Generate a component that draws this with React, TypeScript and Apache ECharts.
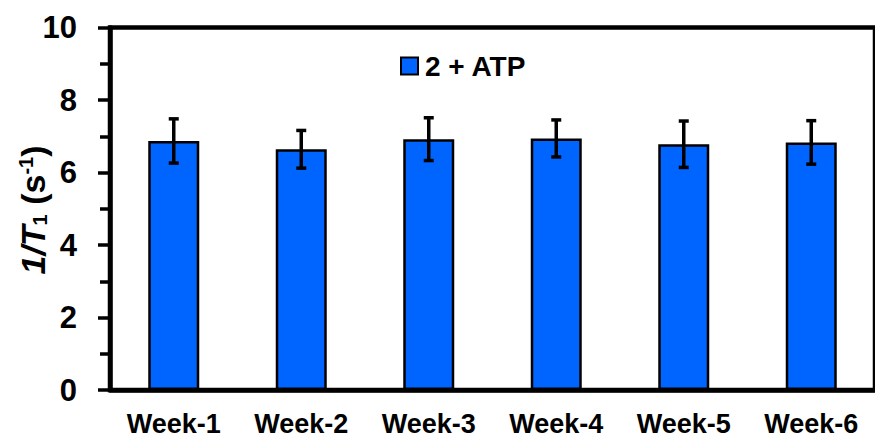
import React, { useEffect, useRef } from "react";
import * as echarts from "echarts";

// Weekly relaxation rate measurements
const weeks = ["Week-1", "Week-2", "Week-3", "Week-4", "Week-5", "Week-6"];
const rates = [6.87, 6.64, 6.92, 6.94, 6.78, 6.83];
const errors = [0.61, 0.52, 0.59, 0.51, 0.64, 0.6];
const seriesName = "2 + ATP";
const yTicks = [0, 2, 4, 6, 8, 10];

const FONT = "'Liberation Sans', Arial, Helvetica, sans-serif";

export default function App() {
  const ref = useRef<HTMLDivElement>(null);

  useEffect(() => {
    document.body.style.margin = "0";
    if (!ref.current) return;
    const chart = echarts.init(ref.current, undefined, { renderer: "svg" });

    const errData = weeks.map((_, i) => [i, rates[i] - errors[i], rates[i] + errors[i]]);

    chart.setOption({
      animation: false,
      backgroundColor: "#fff",
      grid: {
        left: 110,
        top: 27.5,
        width: 771,
        height: 365,
        show: true,
        borderColor: "#000",
        borderWidth: 4.5,
        backgroundColor: "transparent",
      },
      legend: {
        data: [seriesName],
        left: 395,
        top: 47,
        itemWidth: 17,
        itemHeight: 17,
        itemGap: 6,
        icon: "rect",
        itemStyle: { borderColor: "#000", borderWidth: 2 },
        textStyle: { fontFamily: FONT, fontWeight: "bold", fontSize: 28, color: "#000", padding: [0, 0, 0, 2] },
      },
      xAxis: {
        type: "category",
        data: weeks,
        axisLine: { lineStyle: { color: "#000", width: 4.5 } },
        axisTick: { alignWithLabel: true, length: 6, lineStyle: { color: "#000", width: 3 } },
        axisLabel: {
          margin: 20,
          fontFamily: FONT,
          fontWeight: "bold",
          fontSize: 27,
          color: "#000",
        },
      },
      yAxis: {
        type: "value",
        min: yTicks[0],
        max: yTicks[yTicks.length - 1],
        interval: 2,
        splitLine: { show: false },
        axisLine: { show: true, lineStyle: { color: "#000", width: 4.5 } },
        axisTick: { show: true, length: 12, lineStyle: { color: "#000", width: 3.5 } },
        minorTick: { show: true, splitNumber: 2, length: 10, lineStyle: { color: "#000", width: 3.5 } },
        axisLabel: {
          margin: 33,
          fontFamily: FONT,
          fontWeight: "bold",
          fontSize: 31,
          color: "#000",
        },
      },
      graphic: [
        {
          type: "text",
          x: 33,
          y: 210,
          rotation: Math.PI / 2,
          style: {
            text: "{i|1/T}{sub|1}{n| (s}{sup|-1}{n|)}",
            align: "center",
            verticalAlign: "middle",
            fill: "#000",
            rich: {
              i: { fontFamily: FONT, fontWeight: "bold", fontStyle: "italic", fontSize: 34, fill: "#000" },
              n: { fontFamily: FONT, fontWeight: "bold", fontSize: 34, fill: "#000" },
              sub: { fontFamily: FONT, fontWeight: "bold", fontSize: 20, fill: "#000", verticalAlign: "bottom", padding: [14, 0, 0, 0] },
              sup: { fontFamily: FONT, fontWeight: "bold", fontSize: 20, fill: "#000", verticalAlign: "top", padding: [0, 0, 14, 0] },
            },
          },
        },
      ],
      series: [
        {
          name: seriesName,
          type: "bar",
          data: rates,
          barWidth: "40%",
          itemStyle: { color: "#0064FF", borderColor: "#000", borderWidth: 2.5 },
          z: 2,
        },
        {
          name: "error",
          type: "custom",
          data: errData,
          z: 5,
          renderItem: (params: any, api: any) => {
            const idx = api.value(0);
            const lo = api.coord([idx, api.value(1)]);
            const hi = api.coord([idx, api.value(2)]);
            const cap = 5;
            const style = { stroke: "#000", lineWidth: 3.5 };
            return {
              type: "group",
              children: [
                { type: "line", shape: { x1: hi[0], y1: hi[1], x2: lo[0], y2: lo[1] }, style },
                { type: "line", shape: { x1: hi[0] - cap, y1: hi[1], x2: hi[0] + cap, y2: hi[1] }, style },
                { type: "line", shape: { x1: lo[0] - cap, y1: lo[1], x2: lo[0] + cap, y2: lo[1] }, style },
              ],
            };
          },
        },
      ],
    });

    return () => chart.dispose();
  }, []);

  return <div ref={ref} style={{ width: 875, height: 437 }} />;
}
